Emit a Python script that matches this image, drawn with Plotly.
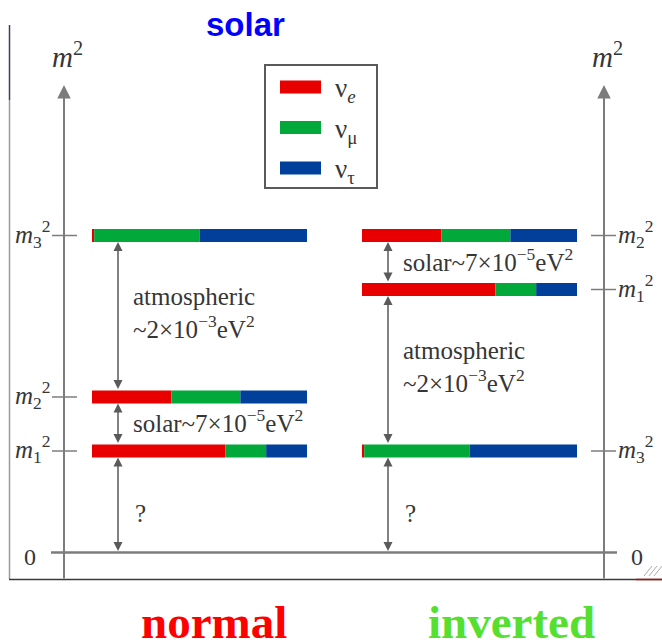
import plotly.graph_objects as go

# ---------------- data ----------------
hierarchies = ["normal", "inverted"]
mass_states = ["m1", "m2", "m3"]
# schematic m^2 levels (arbitrary units, 0 = massless lightest limit)
levels_normal = [1.015, 1.555, 3.17]      # m1^2, m2^2, m3^2
levels_inverted = [2.63, 3.17, 1.015]     # m1^2, m2^2, m3^2
flavors = ["ν<sub><i>e</i></sub>", "ν<sub>μ</sub>", "ν<sub>τ</sub>"]
# flavour content of m1, m2, m3
frac_e = [0.62, 0.37, 0.01]
frac_mu = [0.19, 0.32, 0.49]
frac_tau = [0.19, 0.31, 0.50]
state_labels = ["<i>m</i><sub>1</sub><sup>2</sup>",
                "<i>m</i><sub>2</sub><sup>2</sup>",
                "<i>m</i><sub>3</sub><sup>2</sup>"]
# splittings: (upper state index, lower state index or None for zero, label)
splittings_normal = [(2, 1, "atmospheric<br>~2×10<sup>−3</sup>eV<sup>2</sup>"),
                     (1, 0, "solar~7×10<sup>−5</sup>eV<sup>2</sup>"),
                     (0, None, "?")]
splittings_inverted = [(1, 0, "solar~7×10<sup>−5</sup>eV<sup>2</sup>"),
                       (0, 2, "atmospheric<br>~2×10<sup>−3</sup>eV<sup>2</sup>"),
                       (2, None, "?")]
hierarchy_titles = ["normal", "inverted"]
top_title = "solar"

# ---------------- layout constants ----------------
W, H = 662, 644
Y0_PX = 552.5
PX_PER_UNIT = 100.0


def yd(py):
    return (Y0_PX - py) / PX_PER_UNIT


BAR_X0 = {"normal": 92, "inverted": 362}
BAR_LEN = 215
BAR_H = 0.13
AXIS_X = {"normal": 64, "inverted": 604}
ARROW_X = {"normal": 118, "inverted": 388}
COLORS = ["#e80000", "#00a93a", "#00409a"]
GRAY = "#7c7c7c"
TXT = "#363636"
SERIF = "Liberation Serif, Times New Roman, serif"

levels = {"normal": levels_normal, "inverted": levels_inverted}
splits = {"normal": splittings_normal, "inverted": splittings_inverted}
fracs = [frac_e, frac_mu, frac_tau]

fig = go.Figure()

# ---------------- bars ----------------
for h in hierarchies:
    cum = [0.0, 0.0, 0.0]
    for fi, fr in enumerate(fracs):
        fig.add_trace(go.Bar(
            orientation="h",
            y=levels[h],
            x=[f * BAR_LEN for f in fr],
            base=[BAR_X0[h] + c * BAR_LEN for c in cum],
            width=BAR_H,
            marker=dict(color=COLORS[fi], line=dict(width=0)),
            showlegend=False, hoverinfo="skip"))
        cum = [c + f for c, f in zip(cum, fr)]

shapes = []
annotations = []

# ---------------- frame ----------------
shapes.append(dict(type="line", xref="x", yref="y", x0=9.5, x1=9.5, y0=yd(100), y1=yd(579),
                   line=dict(color="#9a9a9a", width=1.5)))
shapes.append(dict(type="line", xref="x", yref="y", x0=9.5, x1=9.5, y0=yd(25), y1=yd(100),
                   line=dict(color="#3a3d5c", width=1.5)))
shapes.append(dict(type="line", xref="x", yref="y", x0=9, x1=662, y0=yd(579.5), y1=yd(579.5),
                   line=dict(color="#3a3a3a", width=1.5)))
shapes.append(dict(type="line", xref="x", yref="y", x0=636, x1=662, y0=yd(579.5), y1=yd(579.5),
                   line=dict(color="#b01010", width=1.5)))
for k in range(3):
    shapes.append(dict(type="line", xref="x", yref="y", x0=644 + 5 * k, x1=652 + 5 * k,
                       y0=yd(576), y1=yd(566), line=dict(color="#aaaaaa", width=1)))

# ---------------- zero line ----------------
shapes.append(dict(type="line", xref="x", yref="y", x0=51, x1=617, y0=0, y1=0,
                   line=dict(color=GRAY, width=2.5)))

# ---------------- m^2 axes ----------------
for h in hierarchies:
    annotations.append(dict(x=AXIS_X[h], y=yd(85), ax=AXIS_X[h], ay=yd(580),
                            xref="x", yref="y", axref="x", ayref="y", text="",
                            showarrow=True, arrowhead=2, arrowsize=1.35, arrowwidth=2,
                            arrowcolor=GRAY))
    annotations.append(dict(x=AXIS_X[h] + 3, y=yd(55), xref="x", yref="y",
                            text="<i>m</i><sup>2</sup>", showarrow=False,
                            font=dict(family=SERIF, size=29, color=TXT)))

# ticks and tick labels
for i, lv in enumerate(levels_normal):
    shapes.append(dict(type="line", xref="x", yref="y", x0=52, x1=77, y0=lv, y1=lv,
                       line=dict(color=GRAY, width=1.5)))
    annotations.append(dict(x=53, y=lv, xref="x", yref="y", xanchor="right",
                            text=state_labels[i], showarrow=False, yshift=2,
                            font=dict(family=SERIF, size=25, color=TXT)))
for i, lv in enumerate(levels_inverted):
    shapes.append(dict(type="line", xref="x", yref="y", x0=591, x1=616, y0=lv, y1=lv,
                       line=dict(color=GRAY, width=1.5)))
    annotations.append(dict(x=616, y=lv, xref="x", yref="y", xanchor="left",
                            text=state_labels[i], showarrow=False, yshift=2,
                            font=dict(family=SERIF, size=25, color=TXT)))
annotations.append(dict(x=30, y=yd(557), xref="x", yref="y", text="0", showarrow=False,
                        font=dict(family=SERIF, size=24, color=TXT)))
annotations.append(dict(x=637, y=yd(557), xref="x", yref="y", text="0", showarrow=False,
                        font=dict(family=SERIF, size=24, color=TXT)))

# ---------------- splitting arrows ----------------
for h in hierarchies:
    lv = levels[h]
    for up, lo, label in splits[h]:
        y_top = lv[up] - BAR_H / 2
        y_bot = (lv[lo] + BAR_H / 2) if lo is not None else 0.0
        annotations.append(dict(x=ARROW_X[h], y=y_top, ax=ARROW_X[h], ay=y_bot,
                                xref="x", yref="y", axref="x", ayref="y", text="",
                                showarrow=True, arrowside="end+start",
                                arrowhead=2, startarrowhead=2,
                                arrowsize=1.2, startarrowsize=1.2, arrowwidth=1.5,
                                arrowcolor="#5a5a5a"))
        mid = (y_top + y_bot) / 2
        if label == "?":
            annotations.append(dict(x=ARROW_X[h] + 15, y=mid, xref="x", yref="y",
                                    xanchor="left", text=label, showarrow=False, yshift=-8,
                                    font=dict(family=SERIF, size=25, color=TXT)))
        else:
            annotations.append(dict(x=ARROW_X[h] + 13, y=mid, xref="x", yref="y",
                                    xanchor="left", align="left", text=label,
                                    showarrow=False, yshift=3,
                                    font=dict(family=SERIF, size=25, color=TXT)))

# ---------------- legend box ----------------
shapes.append(dict(type="rect", xref="x", yref="y", x0=265, x1=377, y0=yd(65), y1=yd(188),
                   line=dict(color="#5a5a5a", width=2), fillcolor="white"))
legend_rows_px = [87, 127.5, 168]
for fi, py in enumerate(legend_rows_px):
    shapes.append(dict(type="rect", xref="x", yref="y", x0=280, x1=321,
                       y0=yd(py - 6.5), y1=yd(py + 6.5),
                       line=dict(width=0), fillcolor=COLORS[fi]))
    annotations.append(dict(x=333, y=yd(py + 3), xref="x", yref="y", xanchor="left",
                            text=flavors[fi], showarrow=False,
                            font=dict(family=SERIF, size=27, color=TXT)))

# ---------------- titles ----------------
annotations.append(dict(x=245.5, y=yd(24), xref="x", yref="y", text=top_title,
                        showarrow=False,
                        font=dict(family="Liberation Sans", size=33, color="#0000ff",
                                  weight="bold")))
title_x = [214, 511]
title_colors = ["#ff0000", "#55e030"]
for t, tx, tc in zip(hierarchy_titles, title_x, title_colors):
    annotations.append(dict(x=tx, y=yd(622), xref="x", yref="y", text="<b>" + t + "</b>",
                            showarrow=False,
                            font=dict(family=SERIF, size=47, color=tc)))

fig.update_layout(
    width=W, height=H, autosize=False,
    margin=dict(l=0, r=0, t=0, b=0),
    paper_bgcolor="white", plot_bgcolor="white",
    barmode="overlay",
    xaxis=dict(range=[0, W], visible=False, fixedrange=True),
    yaxis=dict(range=[yd(H), yd(0)], visible=False, fixedrange=True),
    shapes=shapes, annotations=annotations,
    showlegend=False,
)

fig.write_html("out.html")
